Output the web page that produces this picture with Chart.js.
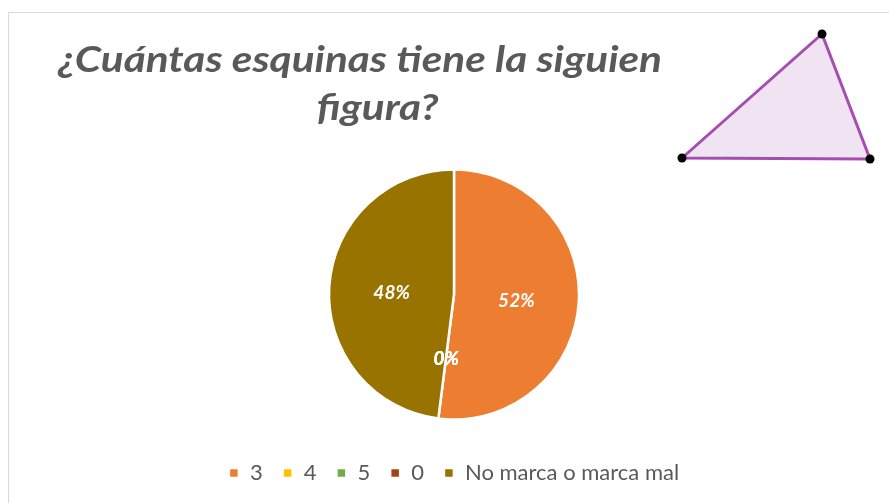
<!DOCTYPE html>
<html lang="es">
<head>
  <meta charset="UTF-8">
  <title>¿Cuántas esquinas tiene la siguiente figura?</title>
  <script src="https://cdn.jsdelivr.net/npm/chart.js"></script>
  <style>
    html, body {
      margin: 0;
      padding: 0;
      background: #fff;
    }
    #wrap {
      width: 889px;
      height: 503px;
    }
  </style>
</head>
<body>
  <div id="wrap"><canvas id="pieChart"></canvas></div>

  <script>
    // datos de la gráfica
    const categorias = ['3', '4', '5', '0', 'No marca o marca mal'];
    const porcentajes = [52, 0, 0, 0, 48];
    const colores = ['#ED7D31', '#FFC000', '#70AD47', '#9E480E', '#997300'];
    const tituloLineas = ['¿Cuántas esquinas tiene la siguiente', 'figura?'];

    // marco, título y la imagen del triángulo
    const decoracion = {
      id: 'decoracion',
      beforeDraw(chart) {
        const c = chart.ctx;
        c.save();
        c.strokeStyle = '#d9d9d9';
        c.lineWidth = 1;
        c.strokeRect(8.5, 12.5, 1000, 1000);

        c.fillStyle = '#595959';
        c.font = 'italic bold 36px Lato';
        const visible = '¿Cuántas esquinas tiene la siguien';
        const sx = 604 / c.measureText(visible).width;
        const full = c.measureText(tituloLineas[0]).width * sx;
        const cx = 58 + full / 2;
        c.textBaseline = 'alphabetic';
        c.textAlign = 'center';
        [72, 120].forEach((y, i) => {
          c.save();
          c.translate(cx, y);
          c.scale(sx, 1);
          c.fillText(tituloLineas[i], 0, 0);
          c.restore();
        });
        c.restore();
      },
      afterDraw(chart) {
        const c = chart.ctx;
        c.save();
        // la imagen tapa parte del título
        c.fillStyle = '#fff';
        c.fillRect(663, 20, 240, 155);
        const pts = [[682, 158], [822, 34], [870, 159]];
        c.beginPath();
        c.moveTo(pts[0][0], pts[0][1]);
        pts.slice(1).forEach(p => c.lineTo(p[0], p[1]));
        c.closePath();
        c.fillStyle = '#f0e4f3';
        c.fill();
        c.strokeStyle = '#a64db0';
        c.lineWidth = 3;
        c.stroke();
        c.fillStyle = '#000';
        pts.forEach(p => {
          c.beginPath();
          c.arc(p[0], p[1], 4.5, 0, Math.PI * 2);
          c.fill();
        });

        // etiquetas de porcentaje
        const meta = chart.getDatasetMeta(0);
        c.fillStyle = '#fff';
        c.font = 'italic bold 19px Lato';
        c.textAlign = 'center';
        c.textBaseline = 'middle';
        meta.data.forEach((arc, i) => {
          const p = arc.tooltipPosition();
          c.fillText(porcentajes[i] + '%', p.x, p.y + 2);
        });
        c.restore();
      }
    };

    new Chart(document.getElementById('pieChart'), {
      type: 'pie',
      data: {
        labels: categorias,
        datasets: [{
          data: porcentajes,
          backgroundColor: colores,
          borderColor: '#fff',
          borderWidth: 2.5,
          radius: 125
        }]
      },
      options: {
        animation: false,
        responsive: true,
        maintainAspectRatio: false,
        layout: {
          padding: { top: 147, left: 26, right: 7, bottom: 9 }
        },
        plugins: {
          legend: {
            position: 'bottom',
            labels: {
              boxWidth: 10,
              boxHeight: 10,
              padding: 20,
              color: '#595959',
              font: { family: 'Lato', size: 22 }
            }
          },
          tooltip: { enabled: false }
        }
      },
      plugins: [decoracion]
    });
  </script>
</body>
</html>
